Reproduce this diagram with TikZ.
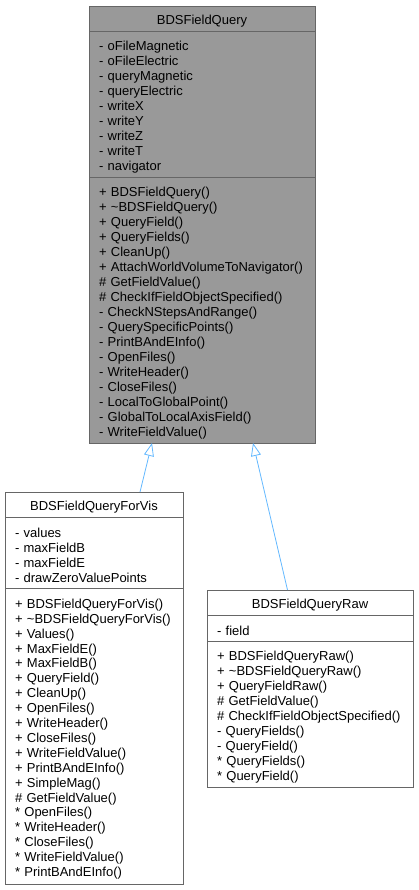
\documentclass[tikz,border=0pt]{standalone}
\usepackage{fontspec}
\setmainfont{Liberation Sans}
\usetikzlibrary{positioning,arrows.meta}
\definecolor{basefill}{HTML}{999999}
\definecolor{boxline}{HTML}{666666}
\definecolor{inherit}{HTML}{63B8FF}

\begin{document}
\begin{tikzpicture}[x=1pt,y=1pt]
        \tikzstyle{box}=[draw=boxline, line width=0.8pt, rectangle, outer sep=0pt, inner xsep=10pt, inner ysep=0pt, font=\fontsize{13}{15}\selectfont, execute at begin node={\rule{0pt}{15.5pt}}]
        \tikzstyle{head}=[box, align=center, minimum height=25pt]
        \tikzstyle{body}=[box, align=left]
        \tikzstyle{current}=[fill=basefill]
        \tikzstyle{inherits}=[draw=inherit, line width=0.8pt, -{Triangle[open, length=13pt, width=10pt]}]
        \useasboundingbox (0,0) rectangle (419,-890);

        % base class
        \node[head, current, text width=206pt, anchor=north west] (base) at (89,-6) {BDSFieldQuery};
        \node[body, current, text width=206pt, minimum height=146pt, below=0pt of base] (baseattr) {- oFileMagnetic\\- oFileElectric\\- queryMagnetic\\- queryElectric\\- writeX\\- writeY\\- writeZ\\- writeT\\- navigator};
        \node[body, current, text width=206pt, minimum height=266pt, below=0pt of baseattr] (baseop) {+ BDSFieldQuery()\\+ \textasciitilde BDSFieldQuery()\\+ QueryField()\\+ QueryFields()\\+ CleanUp()\\+ AttachWorldVolumeToNavigator()\\\# GetFieldValue()\\\# CheckIfFieldObjectSpecified()\\- CheckNStepsAndRange()\\- QuerySpecificPoints()\\- PrintBAndEInfo()\\- OpenFiles()\\- WriteHeader()\\- CloseFiles()\\- LocalToGlobalPoint()\\- GlobalToLocalAxisField()\\- WriteFieldValue()};

        % derived classes
        \node[head, fill=white, text width=158pt, anchor=north west] (forvis) at (5,-492) {BDSFieldQueryForVis};
        \node[body, fill=white, text width=158pt, minimum height=71pt, below=0pt of forvis] (forvisattr) {- values\\- maxFieldB\\- maxFieldE\\- drawZeroValuePoints};
        \node[body, fill=white, text width=158pt, minimum height=296pt, below=0pt of forvisattr, font=\fontsize{13}{14.9}\selectfont] (forvisop) {+ BDSFieldQueryForVis()\\+ \textasciitilde BDSFieldQueryForVis()\\+ Values()\\+ MaxFieldE()\\+ MaxFieldB()\\+ QueryField()\\+ CleanUp()\\+ OpenFiles()\\+ WriteHeader()\\+ CloseFiles()\\+ WriteFieldValue()\\+ PrintBAndEInfo()\\+ SimpleMag()\\\# GetFieldValue()\\{*} OpenFiles()\\{*} WriteHeader()\\{*} CloseFiles()\\{*} WriteFieldValue()\\{*} PrintBAndEInfo()};

        \node[head, fill=white, text width=186pt, anchor=north west] (raw) at (207,-590) {BDSFieldQueryRaw};
        \node[body, fill=white, text width=186pt, minimum height=26pt, below=0pt of raw] (rawattr) {- field};
        \node[body, fill=white, text width=186pt, minimum height=146pt, below=0pt of rawattr] (rawop) {+ BDSFieldQueryRaw()\\+ \textasciitilde BDSFieldQueryRaw()\\+ QueryFieldRaw()\\\# GetFieldValue()\\\# CheckIfFieldObjectSpecified()\\- QueryFields()\\- QueryField()\\{*} QueryFields()\\{*} QueryField()};

        % inheritance
        \draw[inherits] ([xshift=46pt]forvis.north) -- ([xshift=-50pt]baseop.south);
        \draw[inherits] ([xshift=-22.5pt]raw.north) -- ([xshift=51pt]baseop.south);
\end{tikzpicture}
\end{document}
